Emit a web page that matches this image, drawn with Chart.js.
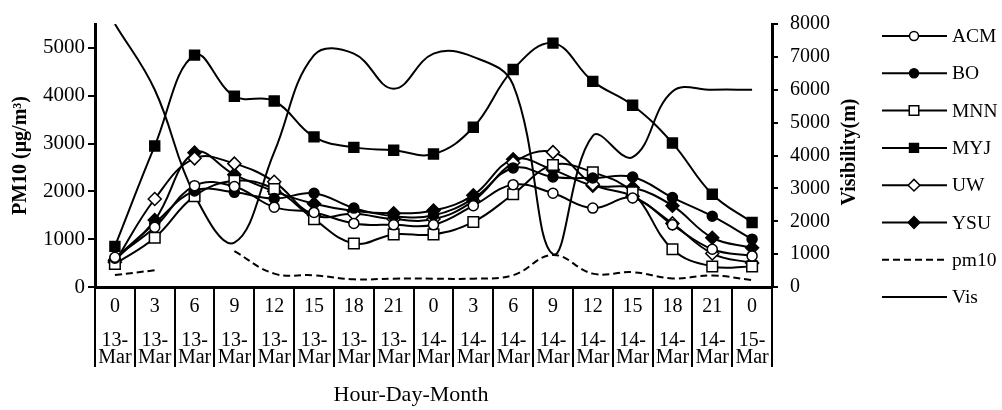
<!DOCTYPE html>
<html><head><meta charset="utf-8">
<script src="https://cdn.jsdelivr.net/npm/chart.js@4/dist/chart.umd.min.js"></script>
<style>html,body{margin:0;padding:0;background:#fff;}#wrap{width:1002px;height:410px;}</style>
</head><body><div id="wrap"><canvas id="c" width="1002" height="410"></canvas></div>
<script>
// ---- data ----
const hours = ['0','3','6','9','12','15','18','21','0','3','6','9','12','15','18','21','0'];
const days  = ['13-','13-','13-','13-','13-','13-','13-','13-','14-','14-','14-','14-','14-','14-','14-','14-','15-'];
const months = ['Mar','Mar','Mar','Mar','Mar','Mar','Mar','Mar','Mar','Mar','Mar','Mar','Mar','Mar','Mar','Mar','Mar'];

const ACM  = [620, 1250, 2120, 2100, 1670, 1560, 1330, 1300, 1300, 1700, 2140, 1960, 1650, 1860, 1300, 790, 650];
const BO   = [600, 1330, 2010, 1980, 1850, 1960, 1650, 1480, 1500, 1850, 2490, 2300, 2280, 2300, 1870, 1480, 1000];
const MNN  = [480, 1030, 1900, 2220, 2050, 1420, 910, 1100, 1100, 1360, 1940, 2550, 2400, 1980, 790, 430, 430];
const MYJ  = [850, 2950, 4850, 3990, 3890, 3140, 2920, 2860, 2780, 3340, 4550, 5100, 4300, 3800, 3010, 1940, 1350];
const UW   = [520, 1840, 2690, 2580, 2200, 1500, 1530, 1420, 1420, 1800, 2600, 2820, 2150, 1900, 1330, 700, 500];
const YSU  = [560, 1400, 2810, 2350, 2000, 1740, 1590, 1540, 1600, 1920, 2670, 2450, 2120, 2080, 1700, 1030, 820];
const pm10 = [250, 350, null, 750, 280, 245, 160, 175, 175, 175, 245, 670, 280, 310, 180, 240, 145];
const Vis  = [8000, 6000, 2800, 1350, 4100, 7050, 7100, 6030, 7100, 7000, 6150, 1000, 4600, 3950, 5950, 6000, 6000];

const leftTicks = [0, 1000, 2000, 3000, 4000, 5000];
const rightTicks = [0, 1000, 2000, 3000, 4000, 5000, 6000, 7000, 8000];

// ---- style ----
const SERIF = "'Liberation Serif', 'Times New Roman', serif";
const labels = hours.map((h, i) => [h, '', days[i], months[i]]);

function series(label, data, style, fill, r) {
  return {
    label, data, yAxisID: 'y',
    borderColor: '#000', borderWidth: 2, tension: 0.4,
    pointStyle: style, pointRadius: r, pointHoverRadius: r,
    pointBackgroundColor: fill, pointBorderColor: '#000', pointBorderWidth: 1.5
  };
}

const datasets = [
  series('ACM', ACM, 'circle', '#fff', 5),
  series('BO', BO, 'circle', '#000', 5),
  series('MNN', MNN, 'rect', '#fff', 7.5),
  series('MYJ', MYJ, 'rect', '#000', 7),
  series('UW', UW, 'rectRot', '#fff', 6.5),
  series('YSU', YSU, 'rectRot', '#000', 6.5),
  { label: 'pm10', data: pm10, yAxisID: 'y', borderColor: '#000', borderWidth: 2, borderDash: [7, 4],
    tension: 0.4, pointRadius: 0, spanGaps: false },
  { label: 'Vis', data: Vis, yAxisID: 'y2', borderColor: '#000', borderWidth: 2, tension: 0.4, pointRadius: 0 }
];

const sideLegend = {
  id: 'sideLegend',
  afterDraw(chart) {
    const ctx = chart.ctx;
    ctx.save();
    chart.data.datasets.forEach((ds, i) => {
      const y = 36 + i * 37.3;
      ctx.strokeStyle = '#000'; ctx.lineWidth = 2;
      ctx.setLineDash(ds.borderDash || []);
      ctx.beginPath(); ctx.moveTo(882, y); ctx.lineTo(947, y); ctx.stroke();
      ctx.setLineDash([]);
      if (ds.pointRadius > 0) {
        ctx.fillStyle = ds.pointBackgroundColor; ctx.strokeStyle = '#000'; ctx.lineWidth = ds.pointBorderWidth;
        Chart.helpers.drawPoint(ctx, {pointStyle: ds.pointStyle, radius: ds.pointRadius * 0.9, rotation: 0, borderWidth: ds.pointBorderWidth}, 914, y);
      }
      ctx.fillStyle = '#000'; ctx.font = '19.5px ' + SERIF; ctx.textBaseline = 'middle'; ctx.textAlign = 'left';
      ctx.fillText(ds.label, 952, y + 1);
    });
    // x axis title
    ctx.font = '22px ' + SERIF; ctx.textAlign = 'center'; ctx.textBaseline = 'middle';
    ctx.fillText('Hour-Day-Month', 411, 395);
    // right axis title
    ctx.translate(850, 152); ctx.rotate(-Math.PI / 2);
    ctx.font = 'bold 20px ' + SERIF; ctx.textAlign = 'center'; ctx.textBaseline = 'middle';
    ctx.fillText('Visibility(m)', 0, 0);
    ctx.restore();
  }
};

const plain = v => String(v);

new Chart(document.getElementById('c'), {
  type: 'line',
  data: { labels, datasets },
  plugins: [sideLegend],
  options: {
    responsive: false, animation: false, devicePixelRatio: 1,
    layout: { padding: { left: 0, right: 170, top: 17, bottom: 0 } },
    plugins: { legend: { display: false }, tooltip: { enabled: false } },
    scales: {
      x: {
        type: 'category', offset: true,
        grid: { display: true, drawOnChartArea: false, drawTicks: true, tickLength: 80, color: '#000', lineWidth: 2, offset: true },
        border: { display: true, color: '#000', width: 3 },
        ticks: { color: '#000', font: { family: SERIF, size: 20, lineHeight: 17 / 20 }, padding: -69,
                 maxRotation: 0, minRotation: 0, autoSkip: false },
        afterFit(s) { s.height = 123; }
      },
      y: {
        position: 'left', min: 0, max: 5500,
        afterBuildTicks(s) { s.ticks = leftTicks.map(v => ({ value: v })); },
        grid: { display: true, drawOnChartArea: false, drawTicks: true, tickLength: 7, color: '#000', lineWidth: 2 },
        border: { display: true, color: '#000', width: 3 },
        ticks: { color: '#000', font: { family: SERIF, size: 21 }, padding: 3, callback: plain },
        title: { display: true, text: 'PM10 (μg/m³)', color: '#000', font: { family: SERIF, size: 20, weight: 'bold' }, padding: { top: 9, bottom: 0 } },
        afterFit(s) { s.width = 95; }
      },
      y2: {
        position: 'right', min: 0, max: 8000,
        afterBuildTicks(s) { s.ticks = rightTicks.map(v => ({ value: v })); },
        grid: { display: true, drawOnChartArea: false, drawTicks: true, tickLength: 6, color: '#000', lineWidth: 2 },
        border: { display: true, color: '#000', width: 3 },
        ticks: { color: '#000', font: { family: SERIF, size: 20 }, padding: 12, callback: plain },
        afterFit(s) { s.width = 60; }
      }
    }
  }
});
</script>
</body></html>
